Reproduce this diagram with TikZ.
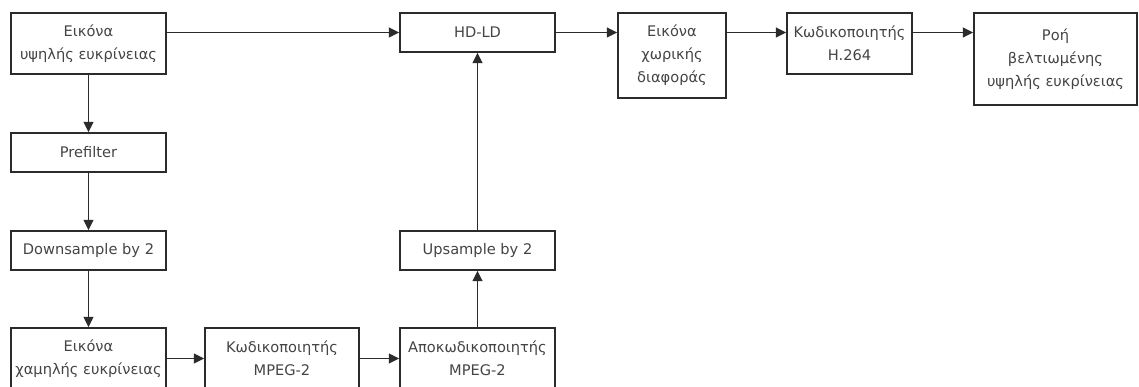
\documentclass[tikz,border=0pt]{standalone}
\usepackage{fontspec}
\setmainfont{DejaVu Sans}
\usepackage{xcolor}
\definecolor{cLine}{HTML}{2B2B2B}
\definecolor{cText}{HTML}{444444}
\usepackage{tikz}
\usetikzlibrary{positioning,arrows.meta,calc}
\tikzset{
  node-box/.style={draw=cLine,line width=0.4mm,inner sep=1pt,
    minimum width=38.75mm,align=center,text=cText,
    font=\fontsize{10.4}{16.3}\selectfont},
  node-tall/.style={minimum height=15.25mm},
  node-flat/.style={minimum height=9.75mm},
  arrow/.style={-{Triangle[length=2.6mm,width=2.5mm]},line width=0.4mm,draw=cLine},
}

\begin{document}
\begin{tikzpicture}
  \useasboundingbox (0,0) rectangle (284.75mm,-96.75mm);
  % left column: high resolution down to low resolution
  \node[node-box,node-tall] at (22.125mm,-10.875mm) (hrImg) {Εικόνα\\υψηλής ευκρίνειας};
  \node[node-box,node-flat] at (22.125mm,-38.125mm) (prefilter) {Prefilter};
  \node[node-box,node-flat] at (22.125mm,-62.625mm) (downsample) {Downsample by 2};
  \node[node-box,node-tall] at (22.125mm,-89.625mm) (lrImg) {Εικόνα\\χαμηλής ευκρίνειας};
  % MPEG-2 path
  \node[node-box,node-tall,minimum width=38.5mm] at (70.5mm,-89.625mm) (mpegEnc) {Κωδικοποιητής\\MPEG-2};
  \node[node-box,node-tall] at (119.375mm,-89.625mm) (mpegDec) {Αποκωδικοποιητής\\MPEG-2};
  \node[node-box,node-flat] at (119.375mm,-62.625mm) (upsample) {Upsample by 2};
  \node[node-box,node-flat] at (119.375mm,-8.125mm) (hdld) {HD-LD};
  % top row: H.264 path
  \node[node-box,minimum width=27mm,minimum height=21.25mm] at (168mm,-13.875mm) (diffImg) {Εικόνα\\χωρικής\\διαφοράς};
  \node[node-box,node-tall,minimum width=31.25mm] at (212.375mm,-10.875mm) (h264) {Κωδικοποιητής\\H.264};
  \node[node-box,minimum width=40.75mm,minimum height=23mm] at (263.875mm,-14.75mm) (stream) {Ροή\\βελτιωμένης\\υψηλής ευκρίνειας};

  \foreach \from/\to in {hrImg/prefilter, prefilter/downsample, downsample/lrImg,
                         mpegDec/upsample, upsample/hdld}
    \draw[arrow] (\from) -- (\to);
  \draw[arrow] (lrImg.east) -- (mpegEnc.west);
  \draw[arrow] (mpegEnc.east) -- (mpegDec.west);
  \draw[arrow] (hrImg.east |- hdld) -- (hdld.west);
  \foreach \from/\to in {hdld/diffImg, diffImg/h264, h264/stream}
    \draw[arrow] (\from.east |- hdld) -- (\to.west |- hdld);
\end{tikzpicture}
\end{document}
